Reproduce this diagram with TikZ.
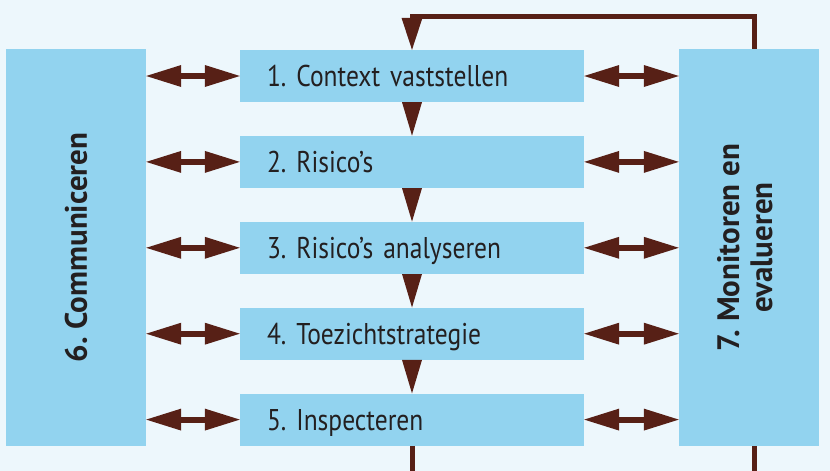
\documentclass[tikz,border=0pt]{standalone}
\usepackage{fontspec}
\setmainfont{PT Sans}[FakeStretch=0.85, BoldFeatures={FakeStretch=1}]
\usetikzlibrary{arrows.meta,positioning}

\definecolor{achtergrond}{RGB}{237,247,252}
\definecolor{vakblauw}{RGB}{146,211,239}
\definecolor{pijlbruin}{RGB}{87,32,22}
\definecolor{tekstgrijs}{RGB}{35,31,32}

\newcommand\staptekst{\fontsize{30}{32}\selectfont\frenchspacing\spaceskip=5pt plus 1pt\relax}

\tikzset{
  vak/.style={fill=vakblauw, draw=none, inner sep=0pt, text=tekstgrijs},
  stap/.style={vak, minimum width=344pt, minimum height=52pt, text width=290pt,
    inner xsep=27pt, align=left, text height=21pt, text depth=0pt,
    font=\staptekst},
  zij/.style={vak, minimum width=140pt, minimum height=397pt,
    font=\fontsize{31}{33}\selectfont\bfseries\frenchspacing},
  heen/.style={draw=pijlbruin, line width=6pt,
    {Triangle[length=35pt,width=22pt,line width=0pt]}-{Triangle[length=35pt,width=22pt,line width=0pt]}},
  omlaag/.style={draw=pijlbruin, line width=1pt,
    -{Triangle[length=33.5pt,width=20pt,line width=0pt]}},
  terug/.style={draw=pijlbruin, line width=5pt,
    -{Triangle[length=32pt,width=21pt,line width=0pt]}},
  lijn/.style={draw=pijlbruin, line width=5pt}
}

\begin{document}
\begin{tikzpicture}[x=1pt,y=-1pt]
\fill[achtergrond] (0,0) rectangle (830,471);
\useasboundingbox (0,0) rectangle (830,471);

% de vijf stappen
\node[stap] (s1) at (412,76) {1. Context vaststellen};
\node[stap, below=33.5pt of s1] (s2) {2. Risico’s};
\node[stap, below=33.5pt of s2] (s3) {3. Risico’s analyseren};
\node[stap, below=33.5pt of s3] (s4) {4. Toezichtstrategie};
\node[stap, below=33.5pt of s4] (s5) {5. Inspecteren};

% zijvakken
\node[zij] (comm) at (76,247.5) {\rotatebox{90}{6. Communiceren}};
\node[zij] (moni) at (749,247.5) {\rotatebox{90}{\begin{tabular}{@{}c@{}}7. Monitoren en\\evalueren\end{tabular}}};

\coordinate (boven) at (754,16.5);
\coordinate (onderL) at (412,471);
\coordinate (onderR) at (754,471);

% pijlen naar links en rechts
\draw[heen] (comm.east |- s1) -- (s1.west);
\draw[heen] (comm.east |- s2) -- (s2.west);
\draw[heen] (comm.east |- s3) -- (s3.west);
\draw[heen] (comm.east |- s4) -- (s4.west);
\draw[heen] (comm.east |- s5) -- (s5.west);

\draw[heen] (s1.east) -- (moni.west |- s1);
\draw[heen] (s2.east) -- (moni.west |- s2);
\draw[heen] (s3.east) -- (moni.west |- s3);
\draw[heen] (s4.east) -- (moni.west |- s4);
\draw[heen] (s5.east) -- (moni.west |- s5);

% pijlen omlaag
\draw[omlaag] (s1.south) -- (s2.north);
\draw[omlaag] (s2.south) -- (s3.north);
\draw[omlaag] (s3.south) -- (s4.north);
\draw[omlaag] (s4.south) -- (s5.north);

% terugkoppeling
\draw[terug] (moni.north -| boven) -- (boven) -| (s1.north);
\draw[lijn] (s5.south) -- (onderL);
\draw[lijn] (moni.south -| onderR) -- (onderR);

\end{tikzpicture}
\end{document}
